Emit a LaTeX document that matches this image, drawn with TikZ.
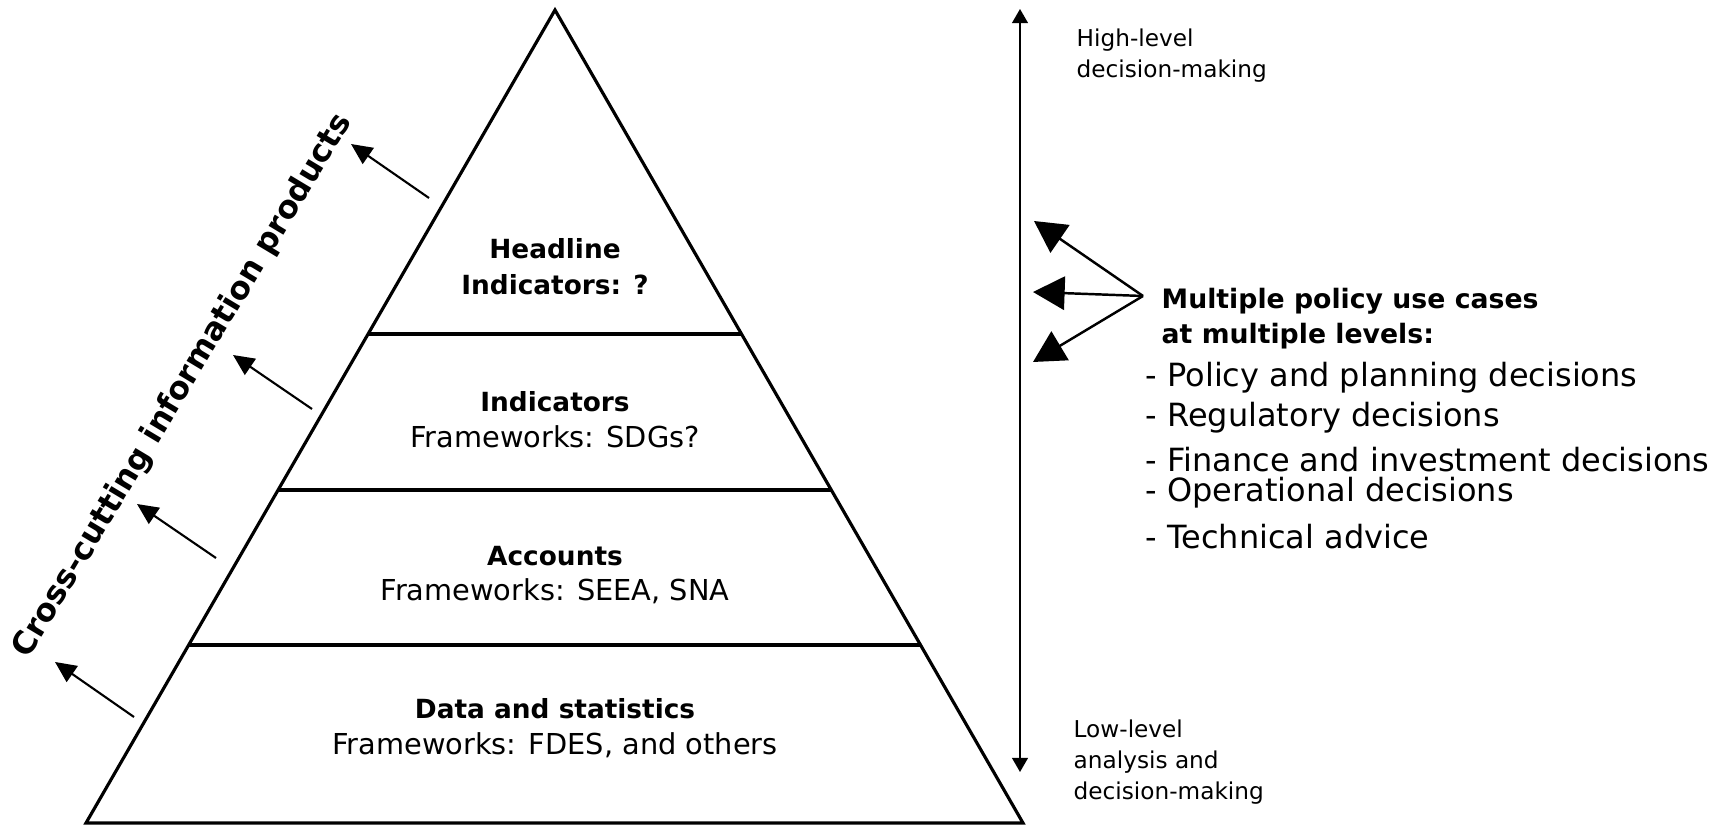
\documentclass[tikz,border=0pt]{standalone}
\usepackage{fontspec}
\setmainfont{DejaVu Sans}
\usetikzlibrary{arrows.meta, calc}
\tikzset{
  pyr/.style={line width=0.9pt},
  upArrow/.style={-{Triangle[length=6pt,width=5.5pt]}, line width=0.6pt},
  fanArrow/.style={-{Triangle[length=9pt,width=9.5pt]}, line width=0.7pt},
  levelArrow/.style={{Triangle[length=4pt,width=4.5pt]}-{Triangle[length=4pt,width=4.5pt]}, line width=0.45pt},
  tier/.style={align=center, inner sep=0pt, font=\fontsize{8.2}{10.2}\selectfont},
  levelnote/.style={align=left, anchor=west, inner sep=0pt, font=\fontsize{6.6}{8.8}\selectfont},
  usecase/.style={anchor=west, inner sep=0pt, font=\fontsize{9.1}{11}\selectfont},
}
\newcommand{\tierhead}[1]{{\fontsize{7.5}{10.2}\selectfont\bfseries #1}}

\begin{document}
\begin{tikzpicture}[x=1mm, y=-1mm]
\useasboundingbox (0,0) rectangle (172.9,82.6);
%% pyramid
  \coordinate (apex) at (55.5,1);
  \coordinate (bl) at (8.6,82.3);
  \coordinate (br) at (102.3,82.3);
  \draw[pyr] (apex) -- (bl) -- (br) -- cycle;
  \draw[pyr] ($(apex)!0.3985!(bl)$) -- ($(apex)!0.3985!(br)$);
  \draw[pyr] ($(apex)!0.5904!(bl)$) -- ($(apex)!0.5904!(br)$);
  \draw[pyr] ($(apex)!0.7811!(bl)$) -- ($(apex)!0.7811!(br)$);
%% tiers
  \node[tier] (headline) at (55.5,26.65) {\tierhead{Headline}\\\tierhead{Indicators: ?}};
  \node[tier] (indic) at (55.5,42.0) {\tierhead{Indicators}\\Frameworks: SDGs?};
  \node[tier] (accounts) at (55.5,57.5) {\tierhead{Accounts}\\Frameworks: SEEA, SNA};
  \node[tier] (data) at (55.5,72.85) {\tierhead{Data and statistics}\\Frameworks: FDES, and others};
%% cross-cutting products
  \node[rotate=59, inner sep=0pt, font=\fontsize{9.0}{11}\selectfont\bfseries] (cross) at (18.3,38.6) {Cross-cutting information products};
  \coordinate (t1) at (42.9,19.8); \coordinate (h1) at (35.1,14.4);
  \coordinate (t2) at (31.2,40.9); \coordinate (h2) at (23.3,35.5);
  \coordinate (t3) at (21.6,55.8); \coordinate (h3) at (13.7,50.4);
  \coordinate (t4) at (13.4,71.7); \coordinate (h4) at (5.5,66.2);
  \draw[upArrow] (t1) -- (h1);
  \draw[upArrow] (t2) -- (h2);
  \draw[upArrow] (t3) -- (h3);
  \draw[upArrow] (t4) -- (h4);
%% level axis
  \coordinate (high) at (102.0,0.9);
  \coordinate (low) at (102.0,77.2);
  \draw[levelArrow] (high) -- (low);
  \node[levelnote] (highnote) at (107.6,5.6) {High-level\\decision-making};
  \node[levelnote] (lownote) at (107.3,76.2) {Low-level\\analysis and\\decision-making};
%% policy use cases
  \node[anchor=west, align=left, inner sep=0pt, font=\fontsize{7.6}{10}\selectfont\bfseries] (policy) at (116.1,31.85) {Multiple policy use cases\\at multiple levels:};
  \coordinate (fan) at (114.3,29.6);
  \coordinate (f1) at (103.4,22.1);
  \coordinate (f2) at (103.3,29.2);
  \coordinate (f3) at (103.3,36.2);
  \draw[fanArrow] (fan) -- (f1);
  \draw[fanArrow] (fan) -- (f2);
  \draw[fanArrow] (fan) -- (f3);
  \node[usecase] (u1) at (114.5,37.8) {- Policy and planning decisions};
  \node[usecase] (u2) at (114.5,41.8) {- Regulatory decisions};
  \node[usecase] (u3) at (114.5,46.0) {- Finance and investment decisions};
  \node[usecase] (u4) at (114.5,49.3) {- Operational decisions};
  \node[usecase] (u5) at (114.5,53.7) {- Technical advice};
\end{tikzpicture}
\end{document}
